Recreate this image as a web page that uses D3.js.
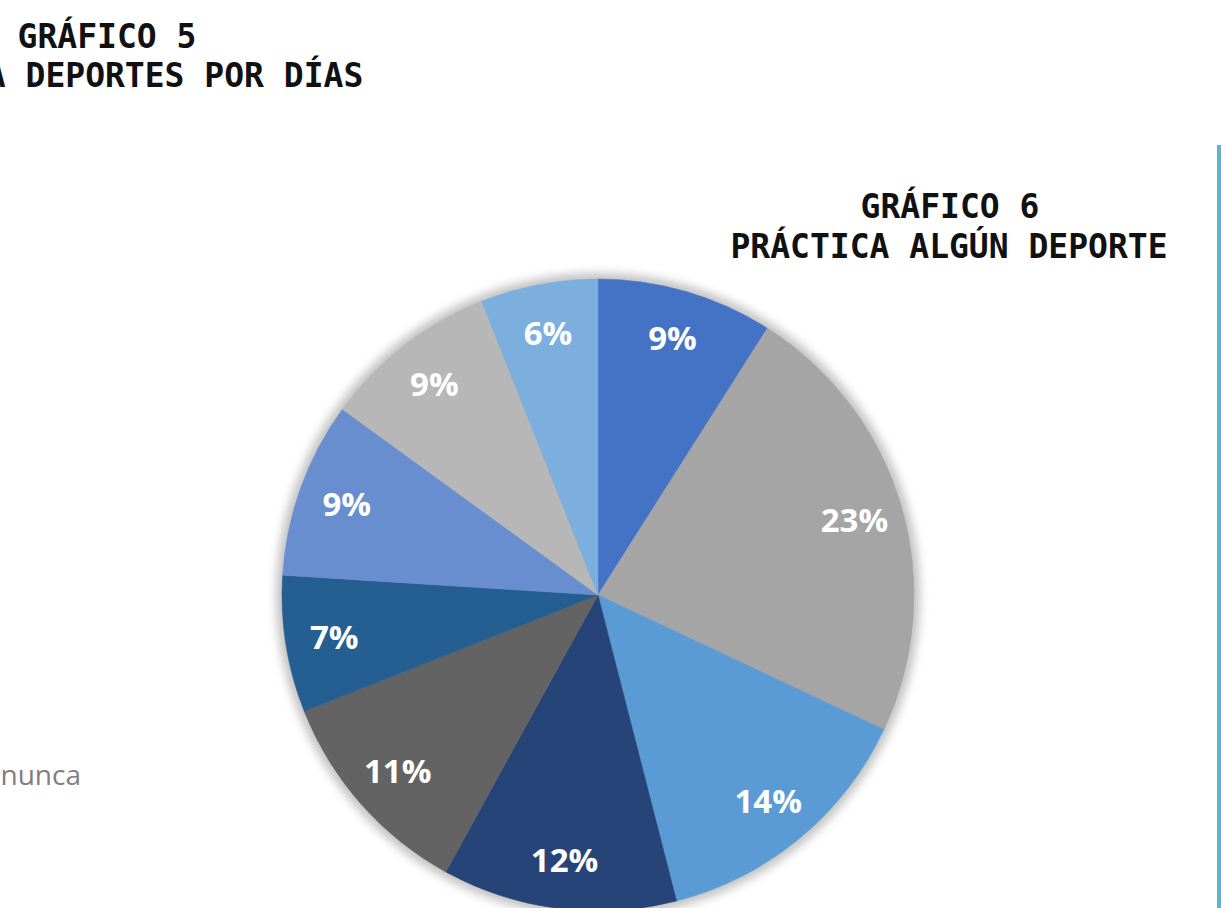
<!DOCTYPE html>
<html>
<head>
<meta charset="utf-8">
<script src="https://cdn.jsdelivr.net/npm/d3@7"></script>
<style>
  html, body { margin: 0; padding: 0; background: #ffffff; }
  svg { display: block; }
</style>
</head>
<body>
<svg id="chart" width="1221" height="908"></svg>
<script>
// Shares of respondents per category, clockwise from 12 o'clock
const categories = ["c1", "c2", "c3", "c4", "c5", "c6", "c7", "c8", "c9"];
const shares = [9, 23, 14, 12, 11, 7, 9, 9, 6];
const sliceColors = ["#4472C4", "#A5A5A5", "#5B9BD5", "#264478", "#636363",
                     "#255E91", "#698ED0", "#B7B7B7", "#7CAFDD"];
const titleMain = ["GRÁFICO 6", "PRÁCTICA ALGÚN DEPORTE"];
const titlePrev = ["GRÁFICO 5", "PRÁCTICA DEPORTES POR DÍAS"];
const legendTail = "nunca";

const svg = d3.select("#chart");
const W = 1221, H = 908;
const cx = 598, cy = 595, R = 316;

const defs = svg.append("defs");
const blur = defs.append("filter").attr("id", "halo")
  .attr("x", "-20%").attr("y", "-20%").attr("width", "140%").attr("height", "140%");
blur.append("feGaussianBlur").attr("stdDeviation", 5);

// Previous chart's heading, running past the left edge
const prev = svg.append("g").attr("font-family", "DejaVu Sans Mono")
  .attr("font-weight", "bold").attr("font-size", 33).attr("fill", "#111")
  .attr("text-anchor", "middle");
prev.append("text").attr("x", 107).attr("y", 48).text(titlePrev[0]);
prev.append("text").attr("x", 105).attr("y", 87).text(titlePrev[1]);

// Tail of the previous chart's legend
svg.append("text").attr("x", 81).attr("y", 785).attr("text-anchor", "end")
  .attr("font-family", "Open Sans").attr("font-size", 28).attr("fill", "#7f7f7f")
  .text(legendTail);

// Vertical accent rule on the right
svg.append("line").attr("x1", 1219).attr("x2", 1219).attr("y1", 145).attr("y2", H)
  .attr("stroke", "#5BB5D0").attr("stroke-width", 4);

// Pie
const g = svg.append("g").attr("transform", `translate(${cx},${cy})`);
g.append("circle").attr("r", R + 6).attr("fill", "#9a9a9a").attr("opacity", 0.6)
  .attr("filter", "url(#halo)");

const pie = d3.pie().value(d => d).sort(null);
const arc = d3.arc().innerRadius(0).outerRadius(R);
const labelArc = d3.arc().innerRadius(R * 0.845).outerRadius(R * 0.845);
const color = d3.scaleOrdinal().domain(d3.range(shares.length)).range(sliceColors);

const arcs = pie(shares);
g.selectAll("path.slice").data(arcs).join("path")
  .attr("class", "slice")
  .attr("d", arc)
  .attr("fill", (d, i) => color(i))
  .attr("stroke", (d, i) => color(i))
  .attr("stroke-width", 0.5);

g.selectAll("text.lbl").data(arcs).join("text")
  .attr("class", "lbl")
  .attr("transform", d => `translate(${labelArc.centroid(d)})`)
  .attr("text-anchor", "middle")
  .attr("dy", "0.36em")
  .attr("font-family", "Open Sans")
  .attr("font-weight", "bold")
  .attr("font-size", 33)
  .attr("fill", "#ffffff")
  .text(d => d.data + "%");

// Heading of this chart
const head = svg.append("g").attr("font-family", "DejaVu Sans Mono")
  .attr("font-weight", "bold").attr("font-size", 33).attr("fill", "#111")
  .attr("text-anchor", "middle");
head.append("text").attr("x", 950).attr("y", 218).text(titleMain[0]);
head.append("text").attr("x", 949).attr("y", 258).text(titleMain[1]);
</script>
</body>
</html>
